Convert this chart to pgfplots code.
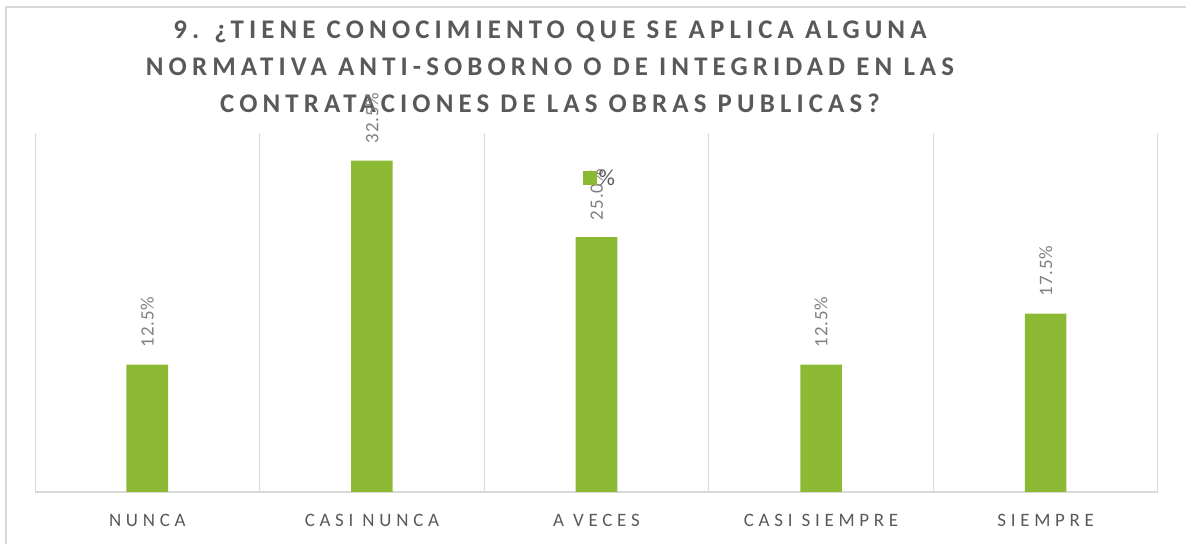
\documentclass[border=0pt]{standalone}
\usepackage{fontspec}
\usepackage{pgfplots}
\pgfplotsset{compat=1.18}
\setmainfont{Carlito}
\newfontfamily\titlefont[LetterSpace=19]{Carlito}
\newfontfamily\labfont[LetterSpace=25]{Carlito}
\newfontfamily\valfont[LetterSpace=5]{Carlito}
\definecolor{bargreen}{HTML}{8CB934}
\definecolor{txtgray}{HTML}{595959}
\definecolor{valgray}{HTML}{7F7F7F}
\definecolor{gridgray}{HTML}{D9D9D9}
\begin{document}
\begin{tikzpicture}[x=1bp,y=1bp]
\path[use as bounding box] (0,0) rectangle (1186,544);
\draw[gridgray, line width=2bp] (6,-5) -- (6,537) -- (1190,537);
\node[txtgray, align=center, font=\titlefont\bfseries\fontsize{27}{37}\selectfont] at (550,477) {9. ¿TIENE CONOCIMIENTO QUE SE APLICA ALGUNA\\NORMATIVA ANTI-SOBORNO O DE INTEGRIDAD EN LAS\\CONTRATACIONES DE LAS OBRAS PUBLICAS?};
\begin{axis}[
  at={(35bp,52bp)}, anchor=south west,
  scale only axis, width=1123bp, height=359bp,
  xmin=-0.5, xmax=4.5, ymin=0, ymax=35.2,
  axis x line*=bottom, axis y line=none,
  x axis line style={gridgray, line width=1.5bp},
  xtick={0,1,2,3,4},
  xticklabels={NUNCA, CASI NUNCA, A VECES, CASI SIEMPRE, SIEMPRE},
  minor xtick={-0.5,0.5,1.5,2.5,3.5,4.5},
  xminorgrids, minor grid style={gridgray, line width=1bp},
  major tick length=0pt, minor tick length=0pt,
  xticklabel style={font=\labfont\fontsize{19}{20}\selectfont, text=txtgray, anchor=base, yshift=-35bp, inner sep=0pt},
  ybar, bar width=41.6bp,
  /pgf/number format/assume math mode=true,
  nodes near coords={\pgfmathprintnumber[fixed,fixed zerofill,precision=1]{\pgfplotspointmeta}\%},
  nodes near coords style={font=\valfont\fontsize{19}{20}\selectfont, text=valgray, rotate=90, anchor=west, inner sep=0pt, outer xsep=17bp},
  legend style={at={(0.503,0.874)}, anchor=center, draw=none, fill=none, font=\fontsize{23}{24}\selectfont, text=txtgray},
  legend image code/.code={\fill[bargreen] (0bp,-7bp) rectangle (14bp,7bp);},
]
\addplot[fill=bargreen, draw=none] coordinates {(0,12.5) (1,32.5) (2,25.0) (3,12.5) (4,17.5)};
\addlegendentry{\%}
\end{axis}
\end{tikzpicture}
\end{document}
